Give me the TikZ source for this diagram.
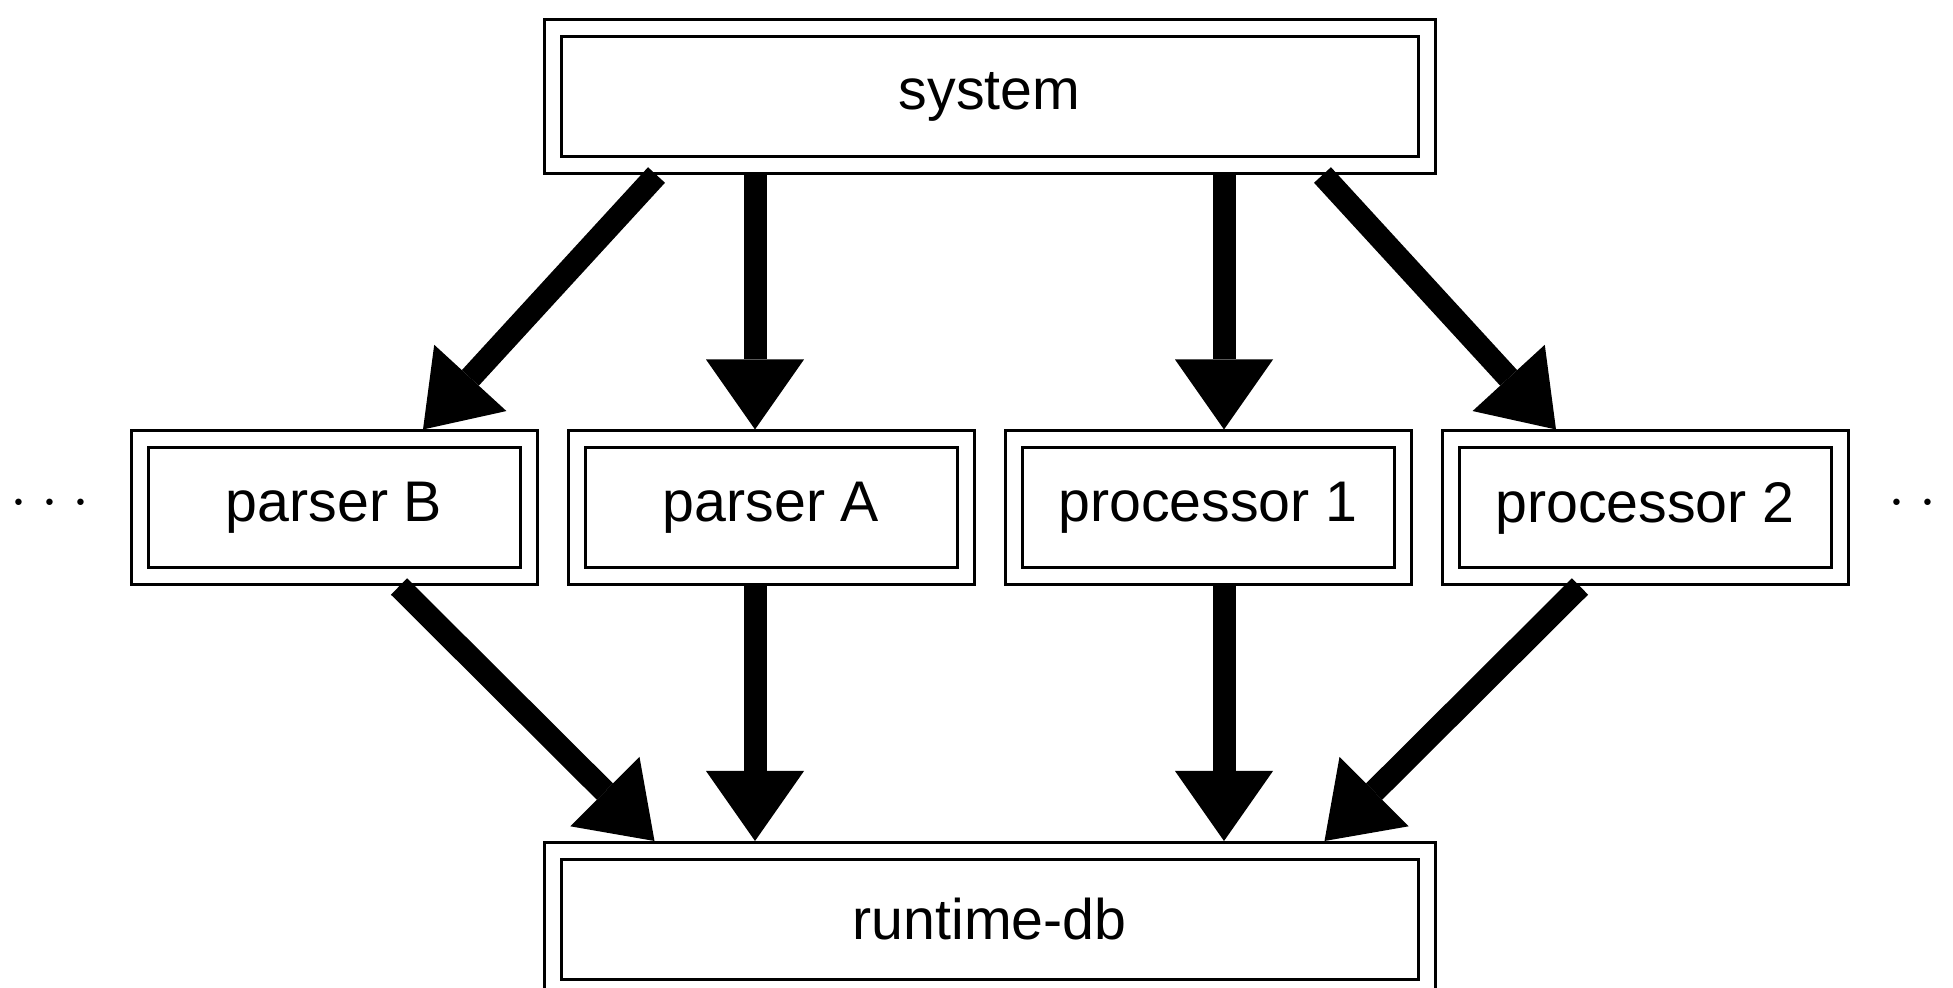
\documentclass[tikz,border=0pt]{standalone}
\usepackage{fontspec}
\setmainfont{Liberation Sans}
\usetikzlibrary{arrows.meta, positioning, calc}

\begin{document}
\begin{tikzpicture}[
      module/.style={draw, double, double distance=0.14cm, line width=0.03cm,
        outer sep=0.10cm, minimum width=3.89cm, minimum height=1.37cm,
        align=center, font=\fontsize{16.3}{19.5}\selectfont},
      wide/.style={minimum width=8.74cm},
      more/.style={anchor=base, inner sep=0, font=\fontsize{16.3}{19.5}\selectfont},
      flow/.style={line width=0.23cm},
      >={Triangle[width=0.98cm, length=0.70cm, line width=0pt]}
    ]
      \useasboundingbox (0,0) rectangle (19.53,-9.88);
      \node[module] (parserA) at (7.71,-5.08) {parser A};
      \node[module, left=0.28cm of parserA] (parserB) {parser B};
      \node[module, right=0.28cm of parserA] (proc1) {processor 1};
      \node[module, right=0.28cm of proc1] (proc2) {processor 2};
      \coordinate (mid) at ($(parserA)!0.5!(proc1)$);
      \node[module, wide, above=3.33cm of mid] (system) {system};
      \node[module, wide, below=3.33cm of mid] (runtime) {runtime-db};
      \node[more] (moreleft) at (0.50,-5.18)
        {$\cdot$\hspace{0.14cm}$\cdot$\hspace{0.14cm}$\cdot$};
      \node[more] (moreright) at (19.28,-5.18)
        {$\cdot$\hspace{0.14cm}$\cdot$\hspace{0.14cm}$\cdot$};
      \draw[->, flow] ([xshift=-3.33cm]system.south) -- ([xshift=0.89cm]parserB.north);
      \draw[->, flow] ($(parserA.north |- system.south)+(-0.16,0)$) -- ($(parserA.north)+(-0.16,0)$);
      \draw[->, flow] ($(proc1.north |- system.south)+(0.16,0)$) -- ($(proc1.north)+(0.16,0)$);
      \draw[->, flow] ([xshift=3.33cm]system.south) -- ([xshift=-0.89cm]proc2.north);
      \draw[->, flow] ([xshift=0.65cm]parserB.south) -- ([xshift=-3.35cm]runtime.north);
      \draw[->, flow] ($(parserA.south)+(-0.16,0)$) -- ($(parserA.south |- runtime.north)+(-0.16,0)$);
      \draw[->, flow] ($(proc1.south)+(0.16,0)$) -- ($(proc1.south |- runtime.north)+(0.16,0)$);
      \draw[->, flow] ([xshift=-0.65cm]proc2.south) -- ([xshift=3.35cm]runtime.north);
    \end{tikzpicture}
\end{document}
